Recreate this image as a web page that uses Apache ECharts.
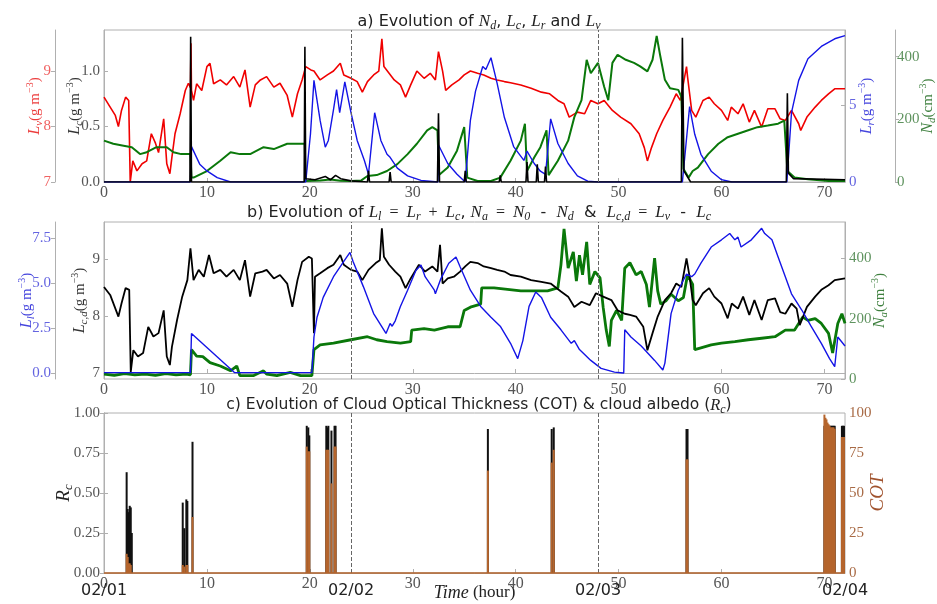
<!DOCTYPE html>
<html><head><meta charset="utf-8">
<script src="https://cdn.jsdelivr.net/npm/echarts@6/dist/echarts.min.js"></script>
<style>html,body{margin:0;padding:0;background:#fff}#c{width:937px;height:604px}</style>
</head><body><div id="c"></div>
<script>
// ---------- tick labels ----------
const HOUR_TICKS = [0,10,20,30,40,50,60,70];
const DATE_TICKS = [0,24,48,72];
const DATE_LABELS = ['02/01','02/02','02/03','02/04'];
const DAY_LINES = [24,48];
const LC_TICKS = [0,0.5,1.0];
const LV_TICKS = [7,8,9];
const LR_TICKS = [0,5];
const ND_TICKS = [0,200,400];
const LCD_TICKS = [7,8,9];
const LL_TICKS = [0,2.5,5,7.5];
const NA_TICKS = [0,200,400];
const RC_TICKS = [0,0.25,0.5,0.75,1];
const COT_TICKS = [0,25,50,75,100];

// ---------- panel a: [hour, value] ----------
const LV = [[0,8.53],[0.6,8.35],[1.1,8.2],[1.4,8.0],[1.7,8.29],[2.1,8.53],[2.4,8.47],[2.55,7.0],[2.8,7.38],[3.2,7.2],[3.7,7.33],[4.15,7.38],[4.6,7.87],[5.0,7.7],[5.3,7.53],[5.8,8.14],[6.1,7.33],[6.4,7.15],[6.6,7.45],[6.9,7.87],[7.4,8.23],[7.9,8.65],[8.2,8.78],[8.4,8.7],[8.45,9.5],[8.5,8.65],[8.7,8.47],[9.0,8.77],[9.5,8.65],[10.0,9.08],[10.3,9.14],[10.65,8.77],[11.3,8.84],[11.9,8.75],[12.6,8.9],[13.2,8.71],[13.7,9.02],[14.2,8.35],[14.7,8.75],[15.2,8.84],[15.8,8.9],[16.5,8.71],[17.1,8.78],[17.8,8.56],[18.3,8.17],[18.8,8.59],[19.25,8.84],[19.6,9.08],[20.1,9.02],[20.4,9.0],[21.0,8.84],[21.7,8.93],[22.3,9.0],[22.96,9.14],[23.3,8.93],[24.0,8.87],[24.6,8.81],[25.1,8.62],[25.6,8.81],[26.2,8.93],[26.7,9.0],[27.0,9.58],[27.2,9.08],[27.7,8.96],[28.2,8.84],[28.8,8.75],[29.3,8.53],[29.8,8.75],[30.4,9.0],[31.1,8.87],[31.7,8.96],[32.2,8.84],[32.5,9.35],[32.9,9.0],[33.2,8.65],[33.8,8.75],[34.5,8.84],[35.0,8.93],[35.6,9.0],[36.3,8.96],[36.9,8.93],[37.6,8.87],[38.2,8.84],[38.9,8.81],[39.5,8.79],[40.5,8.75],[41.5,8.69],[42.5,8.62],[43.3,8.59],[44.1,8.47],[44.7,8.41],[45.2,8.17],[46.0,8.26],[46.7,8.23],[47.3,8.47],[48.0,8.41],[48.6,8.47],[49.4,8.29],[50.2,8.17],[51.2,8.05],[52.0,7.87],[52.5,7.62],[52.8,7.38],[53.2,7.62],[53.7,7.87],[54.3,8.11],[55.0,8.35],[55.6,8.59],[56.0,8.47],[56.6,9.08],[56.7,8.9],[57.1,8.29],[57.5,8.17],[58.2,8.47],[58.8,8.53],[59.3,8.41],[60.0,8.29],[60.6,8.11],[60.95,8.35],[61.6,8.23],[62.1,8.41],[62.7,8.08],[63.2,8.29],[63.9,7.99],[64.5,8.32],[65.2,8.32],[65.7,8.14],[66.2,8.11],[66.8,8.29],[67.5,8.05],[67.7,7.93],[68.3,8.17],[69.1,8.35],[69.7,8.47],[70.4,8.59],[71.0,8.68],[72.0,8.68]];

const ND = [[0,132],[0.9,122],[1.9,116],[2.7,111],[3.5,89],[4.15,95],[5.1,111],[6.1,111],[6.75,95],[7.5,89],[8.4,89],[8.5,14],[8.7,14],[10.0,35],[11.3,68],[12.3,95],[13.2,89],[14.2,89],[15.5,111],[16.5,105],[17.8,122],[19.1,122],[19.5,122],[19.6,3],[21,5],[22,8],[23,4],[24,3],[25.0,5],[25.6,19],[26.5,22],[27.5,35],[28.5,57],[29.5,89],[30.4,122],[31.4,165],[31.9,175],[32.4,165],[32.55,22],[33.4,46],[34.3,100],[35.0,175],[35.1,180],[35.3,14],[36.3,3],[37.6,3],[38.5,14],[39.5,68],[40.5,132],[40.9,186],[41.1,35],[41.8,78],[42.4,111],[43.0,165],[43.2,22],[44.1,68],[45.1,132],[45.7,207],[46.4,261],[46.9,390],[47.3,347],[48.0,380],[48.6,304],[49.0,261],[49.4,380],[49.9,406],[50.7,390],[51.5,380],[52.1,369],[52.8,353],[53.3,390],[53.7,466],[54.0,411],[54.5,326],[55.0,299],[55.8,294],[56.1,272],[56.3,42],[56.8,14],[57.2,35],[57.7,46],[58.7,89],[59.7,122],[60.6,143],[61.6,154],[62.6,165],[63.5,175],[64.5,180],[65.5,186],[66.1,196],[66.4,35],[67.1,14],[68.4,9],[70.4,3],[72,3]];

const LR = [[0,0],[8.4,0],[8.5,2.3],[9.3,1.16],[10.0,0.72],[11.0,0.28],[12.3,0],[19.6,0],[20.06,3.1],[20.4,6.6],[21.0,4.0],[21.5,2.26],[21.8,2.7],[22.3,4.7],[22.6,6.0],[22.9,4.5],[23.4,6.5],[24.0,4.5],[24.6,2.7],[25.3,1.4],[25.7,0.5],[26.3,4.5],[26.9,2.7],[27.5,1.8],[27.8,1.6],[28.5,0.9],[29.5,0.4],[30.8,0.1],[32.45,0],[32.5,2.4],[33.4,1.2],[34.3,0.5],[35.1,0],[35.6,4.0],[36.1,5.9],[36.8,7.5],[37.1,7.3],[37.6,8.07],[38.2,6.4],[38.9,4.2],[39.8,2.3],[40.8,1.4],[41.1,2.0],[41.8,1.2],[42.4,0.7],[42.9,0.5],[43.4,4.1],[44.1,2.5],[45.1,1.2],[46.0,0.4],[47.0,0.05],[48,0],[56.2,0],[56.9,4.9],[57.4,3.1],[58.0,1.8],[59.0,0.7],[60.0,0.15],[61,0],[66.35,0],[66.8,4.5],[67.5,6.6],[68.4,8.0],[69.7,8.8],[71.0,9.3],[72.0,9.5]];

const LC = [[0,0],[8.35,0],[8.42,1.31],[8.5,0],[19.45,0],[19.52,1.22],[19.6,0.03],[20.5,0.02],[21.5,0.05],[22.0,0.02],[22.5,0.06],[23.0,0.03],[24.0,0.01],[25.6,0],[25.7,0.1],[25.8,0],[27.7,0],[27.8,0.09],[27.9,0],[32.4,0],[32.5,0.62],[32.6,0],[35.0,0],[35.1,0.1],[35.2,0],[38.4,0],[38.5,0.06],[38.6,0],[41.0,0],[41.1,0.18],[41.2,0],[42.0,0],[42.1,0.16],[42.2,0],[42.8,0],[42.9,0.14],[43.0,0],[56.1,0],[56.2,1.3],[56.35,0.1],[57,0],[66.3,0],[66.4,0.8],[66.5,0.08],[67.0,0.03],[72,0.02]];

// ---------- panel b ----------
const LCD = [[0,8.51],[0.6,8.37],[1.4,7.99],[1.7,8.22],[2.1,8.49],[2.45,8.46],[2.6,7.02],[2.85,7.4],[3.3,7.29],[3.8,7.35],[4.3,7.81],[4.8,7.64],[5.3,7.7],[5.8,8.1],[6.1,7.29],[6.4,7.14],[6.6,7.46],[7.1,7.93],[7.6,8.34],[8.1,8.63],[8.4,9.19],[8.7,8.63],[9.2,8.81],[9.7,8.69],[10.2,9.07],[10.65,8.75],[11.3,8.81],[11.9,8.69],[12.6,8.81],[13.2,8.63],[13.7,8.98],[14.2,8.34],[14.7,8.75],[15.4,8.78],[15.8,8.81],[16.5,8.66],[17.1,8.72],[17.8,8.57],[18.3,8.16],[18.8,8.63],[19.25,8.95],[19.9,9.04],[20.2,9.01],[20.4,7.7],[20.5,8.69],[21.0,8.75],[21.7,8.84],[22.3,8.9],[22.96,9.07],[23.3,8.9],[24.0,8.81],[24.6,8.78],[25.1,8.63],[25.7,8.81],[26.4,8.93],[26.8,8.98],[27.0,9.54],[27.2,9.04],[27.7,8.9],[28.3,8.78],[28.8,8.69],[29.3,8.49],[29.8,8.66],[30.6,8.9],[31.2,8.78],[31.9,8.87],[32.4,8.78],[32.65,9.25],[32.9,8.57],[33.4,8.66],[34.0,8.69],[34.6,8.78],[35.1,8.87],[35.6,8.95],[36.3,8.93],[36.9,8.87],[37.6,8.84],[38.2,8.81],[38.9,8.78],[39.5,8.72],[40.5,8.69],[41.5,8.63],[42.5,8.6],[43.4,8.57],[44.4,8.43],[45.1,8.34],[45.7,8.16],[46.4,8.25],[47.2,8.19],[47.8,8.4],[48.5,8.34],[49.3,8.28],[49.9,8.1],[50.6,8.04],[51.1,8.02],[51.7,7.99],[52.4,7.81],[52.8,7.4],[53.3,7.7],[53.8,7.99],[54.5,8.28],[55.1,8.4],[55.6,8.57],[56.1,8.51],[56.6,9.01],[56.9,8.69],[57.2,8.28],[57.5,8.19],[58.2,8.4],[58.8,8.49],[59.3,8.34],[60.0,8.22],[60.6,7.96],[61.0,8.22],[61.6,8.13],[62.1,8.34],[62.7,8.02],[63.2,8.28],[63.9,7.93],[64.5,8.28],[65.2,8.31],[65.7,8.07],[66.2,8.04],[66.8,8.22],[67.3,8.13],[67.6,7.84],[68.3,8.16],[69.1,8.34],[69.7,8.46],[70.4,8.54],[71.0,8.63],[72.0,8.66]];

const LL = [[0,0.02],[8.4,0.02],[8.5,2.2],[12.7,0.02],[20.2,0.02],[20.4,2.0],[20.7,3.1],[21.3,4.2],[22.3,5.35],[23.3,6.2],[23.9,6.7],[24.2,6.2],[25.2,4.8],[26.2,3.3],[27.4,2.2],[27.8,2.75],[28.0,2.6],[28.3,2.9],[28.8,3.7],[29.5,4.6],[30.3,5.7],[30.8,6.0],[31.2,5.35],[32.1,4.6],[32.2,4.4],[32.7,5.2],[33.5,6.1],[34.2,6.45],[34.6,5.9],[35.6,4.6],[36.6,3.7],[37.6,3.1],[38.5,2.6],[39.5,1.65],[40.2,0.8],[40.7,1.8],[41.3,3.7],[41.95,4.5],[42.5,4.2],[43.4,3.1],[44.4,2.4],[45.4,1.65],[45.7,1.8],[46.2,1.3],[47.3,0.7],[48.3,0.26],[49.6,0.05],[50.5,0.0],[50.6,2.4],[51.2,2.0],[52.2,1.5],[53.5,0.7],[54.3,0.17],[54.5,0.55],[55.1,3.3],[55.8,4.6],[56.6,5.5],[57.1,5.35],[57.4,5.5],[58.0,6.1],[59.0,7.0],[60.0,7.4],[60.8,7.75],[61.3,7.4],[61.6,7.55],[61.9,7.0],[62.9,7.4],[63.9,8.04],[64.2,7.75],[64.9,7.4],[65.5,6.45],[66.2,5.35],[66.8,4.4],[67.8,3.5],[68.7,2.6],[69.7,1.65],[70.5,0.8],[71.0,0.35],[71.3,2.0],[72.0,1.5]];

const NA = [[0,16],[1,12],[2,18],[3,14],[4,16],[5,12],[6,18],[7,14],[8,16],[8.4,14],[8.5,97],[9.0,76],[9.6,74],[10.3,54],[11.3,43],[12.3,27],[12.9,43],[13.2,11],[14.5,11],[15.5,27],[15.8,16],[16.8,11],[18.1,22],[19.1,11],[20.2,11],[20.4,97],[21.0,113],[22.3,119],[24.0,130],[25.6,140],[26.5,130],[27.5,124],[28.8,119],[29.8,124],[29.9,162],[31.1,167],[32.1,162],[33.4,173],[34.6,173],[35.0,227],[35.6,238],[36.6,248],[36.7,302],[37.9,302],[39.2,297],[40.5,292],[41.8,292],[43.1,292],[44.1,302],[44.4,378],[44.7,497],[45.1,367],[45.6,421],[45.9,324],[46.2,410],[46.5,345],[46.9,454],[47.2,313],[47.7,356],[48.2,335],[48.5,238],[48.8,162],[49.1,108],[49.3,194],[49.8,227],[50.3,194],[50.6,367],[51.1,385],[51.7,345],[52.2,356],[52.7,313],[53.0,238],[53.5,400],[53.8,292],[54.1,248],[54.6,259],[55.1,281],[55.8,259],[56.3,270],[56.7,345],[57.2,313],[57.4,97],[58.0,103],[59.0,113],[60.0,119],[61.3,124],[62.6,130],[63.9,135],[65.2,140],[66.2,162],[67.1,162],[67.9,205],[68.4,194],[69.1,200],[69.7,184],[70.4,151],[70.8,86],[71.3,184],[71.7,216],[72.0,184]];

// ---------- panel c ----------
const RC = [[2.2,0.63],[2.3,0.40],[2.4,0.38],[2.5,0.42],[2.6,0.41],[2.7,0.25],[7.65,0.44],[7.8,0.28],[8.0,0.46],[8.1,0.45],[8.6,0.82],[19.7,0.92],[19.85,0.91],[19.95,0.86],[21.6,0.92],[21.7,0.91],[21.8,0.92],[22.1,0.89],[22.4,0.92],[22.5,0.92],[37.3,0.9],[43.5,0.9],[43.7,0.91],[56.6,0.9],[56.7,0.9],[70.0,0.92],[70.1,0.92],[70.2,0.92],[70.3,0.92],[70.4,0.92],[70.5,0.92],[70.6,0.92],[70.7,0.92],[70.8,0.92],[70.9,0.92],[71.0,0.92],[71.7,0.92],[71.8,0.92],[71.9,0.92]];
const COT = [[2.2,12],[2.3,10],[2.4,6],[2.5,6],[2.6,5],[7.65,5],[7.8,4],[8.0,5],[8.1,5],[8.6,35],[19.7,79],[19.85,76],[19.95,76],[21.6,77],[21.7,77],[21.8,77],[22.1,56],[22.4,79],[22.5,79],[37.3,64],[43.5,69],[43.7,77],[56.6,71],[56.7,71],[70.0,99],[70.1,97],[70.2,96],[70.3,94],[70.4,93],[70.5,92],[70.6,91],[70.7,91],[70.8,91],[70.9,91],[71.0,90],[71.7,85],[71.8,85],[71.9,85]];

// ---------- styling ----------
const SERIF = 'Liberation Serif';
const SANS = 'DejaVu Sans';
const FRAME = '#b0b0b0';
const C = {red:'#f00000', blue:'#1414e6', green:'#0a780a', black:'#000000', brown:'#b5652d'};

function rich(color, size){
  const sub = Math.round(size*0.7), sup = Math.round(size*0.65);
  return {
    i:{fontFamily:SERIF,fontStyle:'italic',fontWeight:'normal',fontSize:size,color:color,lineHeight:size+4},
    s:{fontFamily:SERIF,fontStyle:'italic',fontWeight:'normal',fontSize:sub,color:color,verticalAlign:'bottom',lineHeight:sub},
    n:{fontFamily:SERIF,fontWeight:'normal',fontSize:size-1,color:color,lineHeight:size+4},
    p:{fontFamily:SERIF,fontWeight:'normal',fontSize:sup,color:color,verticalAlign:'top',lineHeight:sup},
    t:{fontFamily:SANS,fontWeight:'normal',fontSize:size-1,color:color,lineHeight:size+4}
  };
}
const GM = '{n|(g m}{p|−3}{n|)}';
const CM = '{n|(cm}{p|−3}{n|)}';

function yAx(o){
  const ticks = o.ticks;
  return {
    gridIndex:o.grid, type:'value', min:o.min, max:o.max, position:o.pos, offset:o.offset||0,
    axisLine:{show:true,lineStyle:{color:FRAME}},
    axisTick:{show:true,inside:!o.offset,length:4,customValues:ticks,lineStyle:{color:FRAME}},
    axisLabel:{customValues:ticks,formatter:o.fmt||(v=>String(v)),color:o.tickColor,fontFamily:SERIF,fontSize:15,margin:o.margin||4},
    splitLine:{show:false},
    name:o.name, nameLocation:'middle', nameRotate:90, nameGap:o.gap, nameMoveOverlap:false,
    nameTextStyle:{rich:rich(o.nameColor,o.nameSize||16)}
  };
}
function xAx(g){
  return {
    gridIndex:g, type:'value', min:0, max:72,
    axisLine:{show:true,lineStyle:{color:FRAME}},
    axisTick:{show:true,inside:true,length:4,customValues:HOUR_TICKS,lineStyle:{color:FRAME}},
    axisLabel:{customValues:HOUR_TICKS,color:'#555',fontFamily:SERIF,fontSize:16,margin:3},
    splitLine:{show:false}
  };
}
const dashLines = {silent:true,symbol:['none','none'],label:{show:false},
  lineStyle:{type:'dashed',color:'#666',width:1},data:DAY_LINES.map(v=>({xAxis:v}))};

function line(data, xi, yi, color, w, extra){
  return Object.assign({type:'line',xAxisIndex:xi,yAxisIndex:yi,data:data,showSymbol:false,symbol:'none',
    lineStyle:{color:color,width:w},itemStyle:{color:color},silent:true}, extra||{});
}

const titleRich = rich('#222',17);
const G = {left:104,right:92,show:true,borderColor:FRAME,borderWidth:1,backgroundColor:'transparent',outerBoundsMode:'none',containLabel:false};

const option = {
  animation:false,
  backgroundColor:'#fff',
  title:[
    {left:474,top:6,textAlign:'center',text:'{t|a) Evolution of }{i|N}{s|d}{t|, }{i|L}{s|c}{t|, }{i|L}{s|r}{t| and }{i|L}{s|v}',textStyle:{fontWeight:'normal',rich:titleRich}},
    {left:474,top:197,textAlign:'center',text:'{t|b) Evolution of }{i|L}{s|l}{n|  =  }{i|L}{s|r}{n|  +  }{i|L}{s|c}{t|, }{i|N}{s|a}{n|  =  }{i|N}{s|0}{t|  -  }{i|N}{s|d}{t|  &  }{i|L}{s|c,d}{n|  =  }{i|L}{s|v}{t|  -  }{i|L}{s|c}',textStyle:{fontWeight:'normal',rich:titleRich}},
    {left:474,top:390,textAlign:'center',text:'{t|c) Evolution of Cloud Optical Thickness (COT) & cloud albedo (}{i|R}{s|c}{t|)}',textStyle:{fontWeight:'normal',rich:rich('#222',16.5)}}
  ],
  grid:[
    Object.assign({top:30,height:152},G),
    Object.assign({top:222,height:157},G),
    Object.assign({top:413,height:160},G)
  ],
  xAxis:[
    xAx(0), xAx(1), xAx(2),
    {gridIndex:2,type:'value',min:0,max:72,position:'bottom',
      axisLine:{show:false},axisTick:{show:false},splitLine:{show:false},
      axisLabel:{customValues:DATE_TICKS,formatter:v=>DATE_LABELS[DATE_TICKS.indexOf(v)],color:'#222',fontFamily:SANS,fontSize:16,margin:10},
      name:'{i|Time}{n| (hour)}',nameLocation:'middle',nameGap:9,nameMoveOverlap:false,nameTextStyle:{rich:rich('#222',18)}}
  ],
  yAxis:[
    yAx({grid:0,min:0,max:1.37,pos:'left',ticks:LC_TICKS,fmt:v=>v.toFixed(1),tickColor:'#555',name:'{i|L}{s|c}'+GM,nameColor:'#333',gap:19}),
    yAx({grid:0,min:7,max:9.74,pos:'left',offset:49,ticks:LV_TICKS,tickColor:'#f06262',name:'{i|L}{s|v}'+GM,nameColor:'#ec3c3c',gap:10}),
    yAx({grid:0,min:0,max:9.87,pos:'right',ticks:LR_TICKS,tickColor:'#6464e0',name:'{i|L}{s|r}'+GM,nameColor:'#4444dd',gap:12}),
    yAx({grid:0,min:0,max:485,pos:'right',offset:50,ticks:ND_TICKS,tickColor:'#5f935f',name:'{i|N}{s|d}'+CM,nameColor:'#3f803f',gap:23,margin:2}),
    yAx({grid:1,min:6.895,max:9.65,pos:'left',ticks:LCD_TICKS,tickColor:'#555',name:'{i|L}{s|c,d}'+GM,nameColor:'#333',gap:14}),
    yAx({grid:1,min:-0.333,max:8.39,pos:'left',offset:49,ticks:LL_TICKS,fmt:v=>v.toFixed(1),tickColor:'#6464e0',name:'{i|L}{s|l}'+GM,nameColor:'#4444dd',gap:18}),
    yAx({grid:1,min:0,max:520,pos:'right',ticks:NA_TICKS,tickColor:'#5f935f',name:'{i|N}{s|a}'+CM,nameColor:'#3f803f',gap:25}),
    yAx({grid:2,min:0,max:1,pos:'left',ticks:RC_TICKS,fmt:v=>v.toFixed(2),tickColor:'#555',name:'{i|R}{s|c}',nameColor:'#222',nameSize:19,gap:29}),
    yAx({grid:2,min:0,max:100,pos:'right',ticks:COT_TICKS,tickColor:'#a86a45',name:'{i|COT}',nameColor:'#a0522d',nameSize:19,gap:21})
  ],
  series:[
    line(LV,0,1,C.red,1.6,{markLine:dashLines}),
    line(ND,0,3,C.green,2.0),
    line(LR,0,2,C.blue,1.4),
    line(LC,0,0,C.black,1.6),
    line(NA,1,6,C.green,2.8,{markLine:dashLines}),
    line(LCD,1,4,C.black,1.8),
    line(LL,1,5,C.blue,1.4),
    {type:'bar',xAxisIndex:2,yAxisIndex:7,data:RC,barWidth:2,barGap:'-100%',itemStyle:{color:'#111'},silent:true,markLine:dashLines},
    {type:'bar',xAxisIndex:2,yAxisIndex:8,data:COT,barWidth:2,barGap:'-100%',itemStyle:{color:C.brown},silent:true,
      markLine:{silent:true,symbol:['none','none'],label:{show:false},lineStyle:{type:'solid',color:C.brown,width:1.5},data:[{yAxis:0}]}}
  ]
};
const chart = echarts.init(document.getElementById('c'),null,{renderer:'canvas'});
chart.setOption(option);
</script></body></html>
